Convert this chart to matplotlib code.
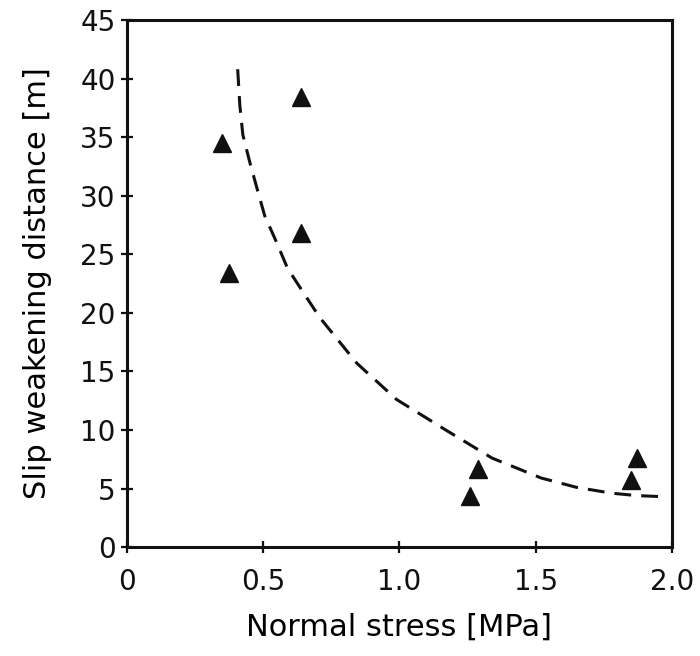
import matplotlib
matplotlib.use("Agg")
import matplotlib.pyplot as plt

plt.rcParams["font.family"] = ["DejaVu Sans"]

# measured points (normal stress [MPa], slip weakening distance [m])
stress = [0.35, 0.375, 0.64, 0.64, 1.26, 1.29, 1.85, 1.87]
dc = [34.5, 23.4, 38.4, 26.8, 4.4, 6.7, 5.7, 7.6]

# trend curve
fit_x = [0.407, 0.415, 0.426, 0.451, 0.477, 0.506, 0.55, 0.59, 0.646, 0.708,
         0.844, 0.99, 1.17, 1.34, 1.52, 1.65, 1.78, 1.87, 1.97]
fit_y = [40.8, 37.7, 35.2, 32.9, 30.7, 28.3, 26.0, 23.8, 21.8, 19.6,
         15.7, 12.6, 10.0, 7.6, 5.9, 5.1, 4.6, 4.4, 4.3]

xticks = [0, 0.5, 1.0, 1.5, 2.0]
xlabels = ["0", "0.5", "1.0", "1.5", "2.0"]
yticks = list(range(0, 50, 5))

fig = plt.figure(figsize=(7, 6.56), dpi=100)
ax = fig.add_axes([0.181, 0.166, 0.779, 0.8035])

ax.plot(fit_x, fit_y, color="#111111", lw=2.2, ls=(0, (5.5, 3.3)))
ax.plot(stress, dc, ls="none", marker="^", ms=13, color="#111111")

ax.set_xlim(0, 2.0)
ax.set_ylim(0, 45)
ax.set_xticks(xticks)
ax.set_xticklabels(xlabels)
ax.set_yticks(yticks)
for s in ax.spines.values():
    s.set_linewidth(2.2)
    s.set_color("#111111")
ax.tick_params(direction="inout", length=8, width=1.6, labelsize=20,
               colors="#111111")
ax.tick_params(axis="x", pad=11)
ax.tick_params(axis="y", pad=4)
ax.set_xlabel("Normal stress [MPa]", fontsize=22, labelpad=12)
ax.set_ylabel("Slip weakening distance [m]", fontsize=22, labelpad=20)

fig.savefig("out.png", dpi=100)
